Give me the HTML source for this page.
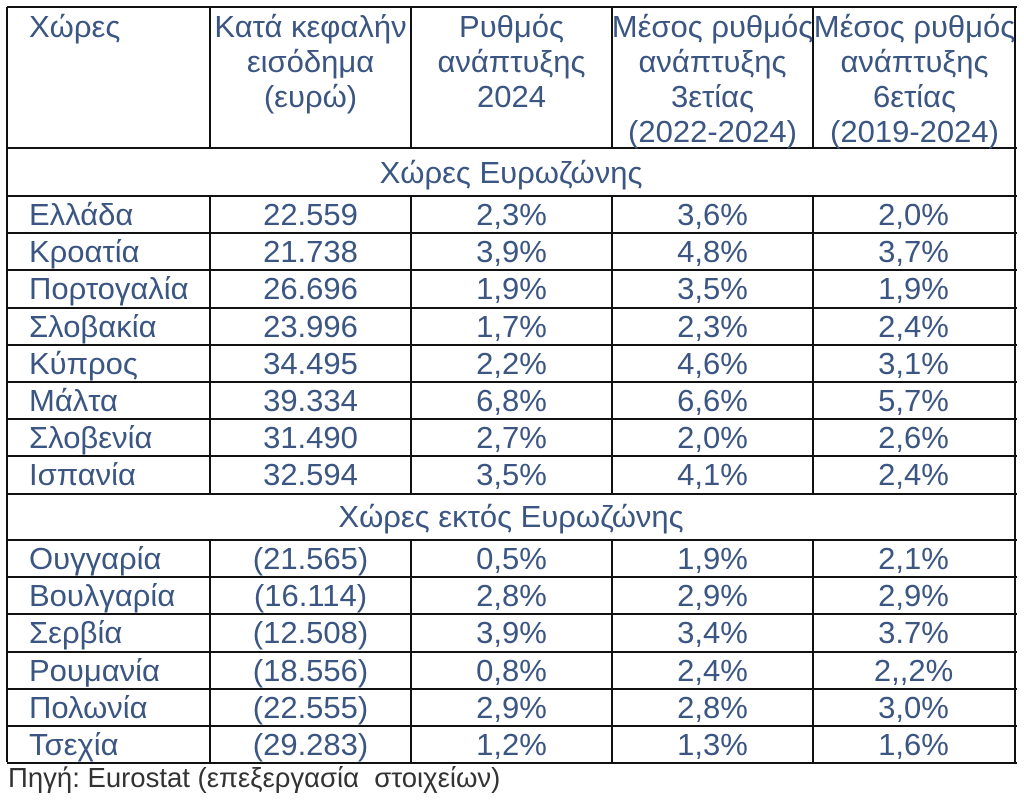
<!DOCTYPE html>
<html><head><meta charset="utf-8"><style>
body{margin:0;background:#fff;width:1024px;height:805px;position:relative;overflow:hidden;font-family:"Liberation Sans","DejaVu Sans",sans-serif;color:#3b5683}
.h,.v{position:absolute;background:#111}
.h{height:2px}.v{width:2px}
.t{position:absolute;font-size:31px;line-height:35px;text-align:center;white-space:nowrap}
.l{text-align:left}
</style></head><body>
<div class="t" style="top:760px;font-size:27.5px;color:#333;line-height:36px;left:8px;text-align:left">Πηγή: Eurostat (επεξεργασία&nbsp; στοιχείων)</div>
<script>
var g=document.body;
function H(x1,x2,y){var d=document.createElement('div');d.className='h';d.style.cssText+='left:'+x1+'px;width:'+(x2-x1+2)+'px;top:'+(y-1)+'px';g.appendChild(d);}
function V(x,y1,y2){var d=document.createElement('div');d.className='v';d.style.cssText+='left:'+(x-1)+'px;top:'+y1+'px;height:'+(y2-y1+1)+'px';g.appendChild(d);}
function T(html,x,w,y,cls,lh){var d=document.createElement('div');d.className='t'+(cls?' '+cls:'');d.style.cssText+='left:'+x+'px;width:'+w+'px;top:'+y+'px'+(lh?';line-height:'+lh+'px':'');d.innerHTML=html;g.appendChild(d);}
var X=[7,210,411,612,813,1015];
var rows1=[["Ελλάδα","22.559","2,3%","3,6%","2,0%"],["Κροατία","21.738","3,9%","4,8%","3,7%"],["Πορτογαλία","26.696","1,9%","3,5%","1,9%"],["Σλοβακία","23.996","1,7%","2,3%","2,4%"],["Κύπρος","34.495","2,2%","4,6%","3,1%"],["Μάλτα","39.334","6,8%","6,6%","5,7%"],["Σλοβενία","31.490","2,7%","2,0%","2,6%"],["Ισπανία","32.594","3,5%","4,1%","2,4%"]];
var rows2=[["Ουγγαρία","(21.565)","0,5%","1,9%","2,1%"],["Βουλγαρία","(16.114)","2,8%","2,9%","2,9%"],["Σερβία","(12.508)","3,9%","3,4%","3.7%"],["Ρουμανία","(18.556)","0,8%","2,4%","2,,2%"],["Πολωνία","(22.555)","2,9%","2,8%","3,0%"],["Τσεχία","(29.283)","1,2%","1,3%","1,6%"]];
H(7,1015,7);H(7,1015,148);
for(var i=0;i<6;i++)V(X[i],7,148);
V(7,148,761);V(1015,148,761);
T("Χώρες",X[0]+22,180,9,"l");
T("Κατά κεφαλήν<br>εισόδημα<br>(ευρώ)",X[1],201,9);
T("Ρυθμός<br>ανάπτυξης<br>2024",X[2],201,9);
T("Μέσος ρυθμός<br>ανάπτυξης<br>3ετίας<br>(2022-2024)",X[3]-2,205,9);
T("Μέσος ρυθμός<br>ανάπτυξης<br>6ετίας<br>(2019-2024)",X[4]-1,205,9);
T("Χώρες Ευρωζώνης",7,1008,155);
H(7,1015,196);
function rows(r,y0){for(var k=0;k<r.length;k++){var y=y0+k*37.2;
 for(var i=1;i<5;i++)V(X[i],Math.round(y),Math.round(y+37.2));
 T(r[k][0],X[0]+22,180,Math.round(y),"l",37);
 for(var c=1;c<5;c++)T(r[k][c],X[c],201,Math.round(y),"",37);
 H(7,1015,Math.round(y+37.2));}}
rows(rows1,196);
T("Χώρες εκτός Ευρωζώνης",7,1008,499);
H(7,1015,540);
rows(rows2,540);
</script>
</body></html>
